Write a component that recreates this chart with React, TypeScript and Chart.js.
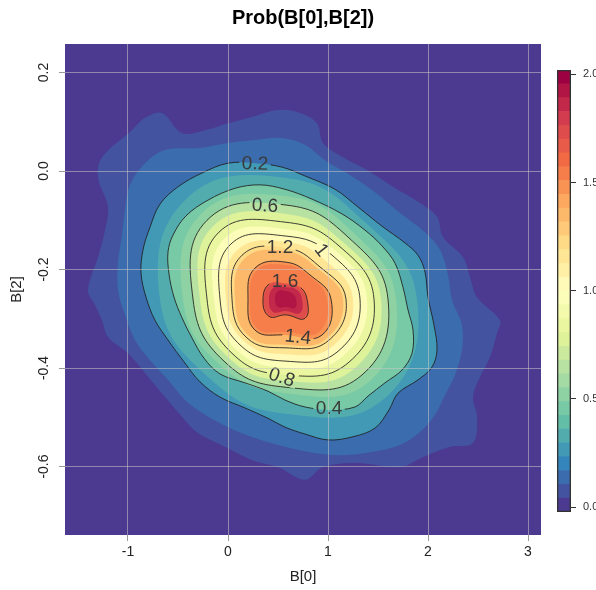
import React, { useEffect, useRef } from 'react';
import { Chart, registerables } from 'chart.js';

Chart.register(...registerables);

type Pt = [number, number];

const FONT = '"Liberation Sans", Arial, Helvetica, sans-serif';

const chartTitle = 'Prob(B[0],B[2])';
const xLabel = 'B[0]';
const yLabel = 'B[2]';
const xLimits: Pt = [-1.63, 3.13];
const yLimits: Pt = [-0.739, 0.258];
const xStep = 1;
const yStep = 0.2;

// colour key
const keyLimits: Pt = [-0.023, 2.02];
const keyBands = 32;
const keyStep = 0.5;
const paletteStops = ['#4B3A90', '#3288BD', '#66C2A5', '#ABDDA4', '#E6F598', '#FFFFBF', '#FEE08B', '#FDAE61', '#F46D43', '#D53E4F', '#9E0142'];

// density level outlines (B[0], B[2])
const band006: Pt[] = [[-0.83,0.108],[-0.66,0.118],[-0.46,0.077],[-0.23,0.083],[0.00,0.097],[0.24,0.110],[0.50,0.124],[0.72,0.118],[0.89,0.097],[0.95,0.057],[1.15,0.028],[1.39,0.002],[1.65,-0.032],[1.92,-0.065],[2.09,-0.093],[2.15,-0.134],[2.35,-0.175],[2.42,-0.215],[2.49,-0.256],[2.72,-0.303],[2.69,-0.329],[2.62,-0.378],[2.52,-0.418],[2.45,-0.459],[2.49,-0.499],[2.45,-0.552],[2.22,-0.560],[1.95,-0.581],[1.72,-0.601],[1.29,-0.593],[0.95,-0.601],[0.77,-0.627],[0.50,-0.601],[0.24,-0.587],[-0.03,-0.560],[-0.30,-0.532],[-0.46,-0.499],[-0.63,-0.459],[-0.83,-0.410],[-1.00,-0.370],[-1.20,-0.337],[-1.26,-0.303],[-1.33,-0.272],[-1.40,-0.242],[-1.30,-0.175],[-1.23,-0.120],[-1.20,-0.073],[-1.30,-0.012],[-1.26,0.028],[-0.96,0.083]];
const band013: Pt[] = [[-0.63,0.043],[-0.28,0.047],[0.00,0.057],[0.27,0.063],[0.54,0.067],[0.77,0.053],[0.97,0.022],[1.22,-0.008],[1.47,-0.043],[1.72,-0.085],[1.97,-0.124],[2.12,-0.160],[2.20,-0.211],[2.24,-0.262],[2.34,-0.313],[2.34,-0.363],[2.27,-0.414],[2.17,-0.455],[2.07,-0.495],[1.92,-0.530],[1.72,-0.556],[1.42,-0.571],[1.12,-0.577],[0.82,-0.571],[0.57,-0.560],[0.27,-0.542],[0.02,-0.522],[-0.23,-0.495],[-0.43,-0.465],[-0.60,-0.424],[-0.78,-0.384],[-0.93,-0.343],[-1.03,-0.292],[-1.10,-0.242],[-1.10,-0.185],[-1.06,-0.130],[-1.03,-0.079],[-0.98,-0.028],[-0.83,0.016]];
const contour02: Pt[] = [[-0.26,-0.004],[0.00,0.016],[0.27,0.016],[0.54,0.008],[0.77,-0.010],[1.07,-0.037],[1.30,-0.073],[1.54,-0.112],[1.77,-0.146],[1.90,-0.171],[1.97,-0.205],[2.00,-0.256],[2.06,-0.313],[2.09,-0.363],[2.04,-0.398],[1.90,-0.424],[1.70,-0.451],[1.61,-0.485],[1.47,-0.522],[1.24,-0.540],[1.00,-0.546],[0.77,-0.534],[0.57,-0.520],[0.40,-0.502],[0.17,-0.481],[-0.08,-0.459],[-0.28,-0.428],[-0.43,-0.390],[-0.60,-0.343],[-0.73,-0.303],[-0.82,-0.256],[-0.87,-0.207],[-0.85,-0.160],[-0.78,-0.114],[-0.68,-0.067],[-0.50,-0.032]];
const contour03: Pt[] = [[1.89,-0.260],[1.36,-0.102],[0.58,-0.014],[-0.42,-0.057],[-0.68,-0.260],[-0.20,-0.418],[0.58,-0.493],[1.57,-0.461]];
const contour04: Pt[] = [[-0.20,-0.059],[0.07,-0.035],[0.32,-0.028],[0.57,-0.037],[0.84,-0.057],[1.14,-0.087],[1.37,-0.120],[1.54,-0.152],[1.67,-0.187],[1.75,-0.236],[1.80,-0.282],[1.85,-0.323],[1.84,-0.370],[1.74,-0.404],[1.57,-0.430],[1.40,-0.457],[1.27,-0.479],[1.02,-0.485],[0.77,-0.479],[0.57,-0.465],[0.40,-0.447],[0.17,-0.430],[-0.08,-0.412],[-0.24,-0.380],[-0.36,-0.339],[-0.46,-0.298],[-0.54,-0.256],[-0.59,-0.209],[-0.60,-0.164],[-0.55,-0.130],[-0.42,-0.091]];
const contour05: Pt[] = [[1.68,-0.260],[1.25,-0.124],[0.58,-0.051],[-0.27,-0.087],[-0.45,-0.260],[-0.08,-0.394],[0.58,-0.451],[1.41,-0.428]];
const contour06: Pt[] = [[1.60,-0.260],[1.20,-0.134],[0.58,-0.069],[-0.21,-0.100],[-0.35,-0.260],[-0.04,-0.386],[0.58,-0.439],[1.34,-0.414]];
const contour07: Pt[] = [[1.53,-0.260],[1.15,-0.144],[0.58,-0.087],[-0.15,-0.112],[-0.28,-0.260],[0.00,-0.378],[0.58,-0.426],[1.27,-0.400]];
const contour08: Pt[] = [[1.46,-0.260],[1.11,-0.152],[0.58,-0.104],[-0.09,-0.124],[-0.21,-0.260],[0.04,-0.370],[0.58,-0.414],[1.21,-0.388]];
const contour09: Pt[] = [[1.39,-0.260],[1.07,-0.161],[0.58,-0.118],[-0.03,-0.136],[-0.14,-0.260],[0.08,-0.362],[0.58,-0.400],[1.15,-0.376]];
const contour10: Pt[] = [[1.32,-0.260],[1.03,-0.169],[0.58,-0.132],[0.03,-0.148],[-0.08,-0.260],[0.12,-0.353],[0.58,-0.386],[1.10,-0.366]];
const contour11: Pt[] = [[1.25,-0.260],[0.97,-0.181],[0.58,-0.144],[0.09,-0.161],[-0.02,-0.260],[0.16,-0.345],[0.58,-0.372],[1.05,-0.355]];
const contour12: Pt[] = [[1.18,-0.260],[0.91,-0.193],[0.58,-0.156],[0.14,-0.171],[0.04,-0.260],[0.19,-0.339],[0.58,-0.359],[1.00,-0.345]];
const contour13: Pt[] = [[1.15,-0.260],[0.89,-0.197],[0.58,-0.163],[0.17,-0.177],[0.07,-0.260],[0.21,-0.335],[0.58,-0.353],[0.98,-0.341]];
const contour14: Pt[] = [[1.03,-0.260],[0.82,-0.211],[0.58,-0.185],[0.27,-0.197],[0.20,-0.260],[0.27,-0.323],[0.58,-0.333],[0.94,-0.333]];
const contour15: Pt[] = [[0.99,-0.260],[0.81,-0.213],[0.58,-0.191],[0.29,-0.201],[0.22,-0.260],[0.29,-0.319],[0.58,-0.327],[0.91,-0.327]];
const contour16: Pt[] = [[0.79,-0.260],[0.71,-0.234],[0.58,-0.228],[0.42,-0.228],[0.35,-0.260],[0.41,-0.295],[0.58,-0.292],[0.77,-0.299]];
const contour17: Pt[] = [[0.78,-0.260],[0.70,-0.236],[0.58,-0.230],[0.43,-0.230],[0.36,-0.260],[0.42,-0.292],[0.58,-0.290],[0.76,-0.297]];
const contour18: Pt[] = [[0.74,-0.260],[0.68,-0.240],[0.58,-0.236],[0.46,-0.236],[0.41,-0.260],[0.45,-0.286],[0.58,-0.284],[0.72,-0.288]];
const contour19: Pt[] = [[0.68,-0.260],[0.64,-0.248],[0.58,-0.244],[0.50,-0.244],[0.47,-0.260],[0.50,-0.276],[0.58,-0.276],[0.67,-0.278]];

const fillShapes: Pt[][] = [band006, band013, contour02, contour03, contour04, contour05, contour06, contour07, contour08, contour09, contour10, contour11, contour12, contour13, contour14, contour15, contour16, contour17, contour18, contour19];
const fillValues = [0.095, 0.165, 0.25, 0.35, 0.45, 0.55, 0.65, 0.75, 0.85, 0.95, 1.05, 1.15, 1.25, 1.35, 1.45, 1.55, 1.65, 1.75, 1.85, 1.95];

const lineLevels = [0.2, 0.4, 0.6, 0.8, 1.0, 1.2, 1.4, 1.6];
const lineShapes: Pt[][] = [contour02, contour04, contour06, contour08, contour10, contour12, contour14, contour16];

const labelTexts = ['0.2', '0.4', '0.6', '0.8', '1', '1.2', '1.4', '1.6'];
const labelB0 = [0.27, 1.01, 0.37, 0.54, 0.94, 0.52, 0.70, 0.57];
const labelB2 = [0.016, -0.481, -0.069, -0.418, -0.160, -0.154, -0.336, -0.223];
const labelAngles = [2, 0, 3, 18, 52, 0, 6, 0];

function hexToRgb(h: string): number[] {
  const n = parseInt(h.slice(1), 16);
  return [(n >> 16) & 255, (n >> 8) & 255, n & 255];
}
function ramp(t: number): string {
  const n = paletteStops.length;
  const s = Math.max(0, Math.min(1, t)) * (n - 1);
  const i = Math.min(n - 2, Math.floor(s));
  const f = s - i;
  const a = hexToRgb(paletteStops[i]);
  const b = hexToRgb(paletteStops[i + 1]);
  const c = a.map((v, j) => Math.round(v + (b[j] - v) * f));
  return `rgb(${c[0]},${c[1]},${c[2]})`;
}
function bandOf(v: number): number {
  const r = (v - keyLimits[0]) / (keyLimits[1] - keyLimits[0]);
  return Math.max(0, Math.min(keyBands - 1, Math.floor(r * keyBands)));
}
function colorFor(v: number): string {
  return ramp(bandOf(v) / (keyBands - 1));
}

const toXY = (pts: Pt[]) => pts.map(([x, y]) => ({ x, y }));
const LABEL_FONT = `19px ${FONT}`;

const closedLoopPlugin = {
  id: 'closedLoop',
  afterDatasetsUpdate(chart: any) {
    chart.getSortedVisibleDatasetMetas().forEach((m: any) => {
      const el = m.dataset;
      if (el) {
        el._loop = true;
        el._fullLoop = true;
        el._segments = undefined;
        el._path = undefined;
        el._pointsUpdated = false;
      }
    });
  },
};

const backgroundPlugin = {
  id: 'plotBackground',
  beforeDatasetsDraw(chart: any) {
    const { ctx, chartArea: a } = chart;
    ctx.save();
    ctx.fillStyle = colorFor(0);
    ctx.fillRect(a.left, a.top, a.right - a.left, a.bottom - a.top);
    ctx.restore();
  },
};

function labelBoxes(chart: any) {
  const ctx = chart.ctx;
  const xs = chart.scales.x;
  const ys = chart.scales.y;
  ctx.save();
  ctx.font = LABEL_FONT;
  const boxes = labelTexts.map((t, i) => ({
    t,
    x: xs.getPixelForValue(labelB0[i]),
    y: ys.getPixelForValue(labelB2[i]),
    a: (labelAngles[i] * Math.PI) / 180,
    w: ctx.measureText(t).width + 5,
    h: 15,
  }));
  ctx.restore();
  return boxes;
}

const gapPlugin = {
  id: 'labelGaps',
  beforeDatasetDraw(chart: any, args: any) {
    const ds = chart.data.datasets[args.index];
    if (!ds || !ds.contourLine) return;
    const ctx = chart.ctx;
    const a = chart.chartArea;
    ctx.save();
    ctx.beginPath();
    ctx.rect(a.left, a.top, a.right - a.left, a.bottom - a.top);
    labelBoxes(chart).forEach((b) => {
      const c = Math.cos(b.a), s = Math.sin(b.a);
      const corners = [[-b.w / 2, -b.h / 2], [b.w / 2, -b.h / 2], [b.w / 2, b.h / 2], [-b.w / 2, b.h / 2]];
      corners.forEach(([px, py], k) => {
        const X = b.x + px * c - py * s;
        const Y = b.y + px * s + py * c;
        if (k === 0) ctx.moveTo(X, Y); else ctx.lineTo(X, Y);
      });
      ctx.closePath();
    });
    ctx.clip('evenodd');
  },
  afterDatasetDraw(chart: any, args: any) {
    const ds = chart.data.datasets[args.index];
    if (!ds || !ds.contourLine) return;
    chart.ctx.restore();
  },
};

const labelPlugin = {
  id: 'contourLabels',
  afterDatasetsDraw(chart: any) {
    const ctx = chart.ctx;
    const boxes = labelBoxes(chart);
    ctx.save();
    ctx.font = LABEL_FONT;
    ctx.fillStyle = '#3a3a3a';
    ctx.textAlign = 'center';
    ctx.textBaseline = 'middle';
    boxes.forEach((b) => {
      ctx.save();
      ctx.translate(b.x, b.y);
      ctx.rotate(b.a);
      ctx.fillText(b.t, 0, 1);
      ctx.restore();
    });
    ctx.restore();
  },
};

export default function App() {
  const mainRef = useRef<HTMLCanvasElement>(null);
  const keyRef = useRef<HTMLCanvasElement>(null);

  useEffect(() => {
    if (!mainRef.current || !keyRef.current) return;

    const datasets: any[] = [];
    fillShapes.forEach((pts, k) => {
      datasets.push({
        label: `band ${fillValues[k]}`,
        data: toXY(pts),
        fill: 'shape',
        backgroundColor: colorFor(fillValues[k]),
        borderColor: 'rgba(0,0,0,0)',
        borderWidth: 0,
        pointRadius: 0,
        tension: pts.length > 12 ? 0.35 : 0.45,
        order: 200 - k,
      });
    });
    lineShapes.forEach((pts, k) => {
      datasets.push({
        label: `contour ${lineLevels[k]}`,
        data: toXY(pts),
        fill: false,
        borderColor: 'rgba(30,30,30,0.85)',
        borderWidth: 1,
        pointRadius: 0,
        tension: pts.length > 12 ? 0.35 : 0.45,
        order: 0,
        contourLine: true,
      });
    });

    const gridOpts = { color: 'rgba(200,200,200,0.55)', lineWidth: 1, z: 1, drawTicks: true, tickLength: 6, tickColor: '#999' };

    const main = new Chart(mainRef.current, {
      type: 'line',
      data: { datasets },
      options: {
        animation: false,
        responsive: true,
        maintainAspectRatio: false,
        events: [],
        layout: { padding: { top: 0, left: 0, right: 55, bottom: 0 } },
        plugins: {
          legend: { display: false },
          tooltip: { enabled: false },
          title: {
            display: true,
            text: chartTitle,
            fullSize: false,
            color: '#000',
            font: { size: 20, weight: 'bold', family: FONT },
            padding: { top: 6, bottom: 14 },
          },
        },
        scales: {
          x: {
            type: 'linear',
            min: xLimits[0],
            max: xLimits[1],
            ticks: {
              stepSize: xStep,
              includeBounds: false,
              maxRotation: 0,
              padding: 3,
              color: '#222',
              font: { size: 14, family: FONT },
              callback: (v: any) => String(Math.round(Number(v))),
            },
            grid: gridOpts,
            border: { display: false },
            title: { display: true, text: xLabel, color: '#222', font: { size: 15, family: FONT }, padding: { top: 4, bottom: 4 } },
            afterFit: (s: any) => { s.height = 55; },
          },
          y: {
            type: 'linear',
            min: yLimits[0],
            max: yLimits[1],
            ticks: {
              stepSize: yStep,
              includeBounds: false,
              minRotation: 90,
              maxRotation: 90,
              crossAlign: 'center',
              padding: 3,
              color: '#222',
              font: { size: 14, family: FONT },
              callback: (v: any) => Number(v).toFixed(1),
            },
            grid: gridOpts,
            border: { display: false },
            title: { display: true, text: yLabel, color: '#222', font: { size: 15, family: FONT }, padding: { top: 8, bottom: 4 } },
            afterFit: (s: any) => { s.width = 65; },
          },
        },
      } as any,
      plugins: [closedLoopPlugin, backgroundPlugin, gapPlugin, labelPlugin],
    });

    const keyEdges = Array.from({ length: keyBands + 1 }, (_, i) => keyLimits[0] + (i * (keyLimits[1] - keyLimits[0])) / keyBands);
    const keySets: any[] = keyEdges.slice(0, -1).map((lo, i) => ({
      data: [[lo, keyEdges[i + 1]]],
      backgroundColor: ramp(i / (keyBands - 1)),
      borderWidth: 0,
      grouped: false,
      barPercentage: 1,
      categoryPercentage: 1,
      order: 1,
    }));
    keySets.push({
      data: [[keyLimits[0], keyLimits[1]]],
      backgroundColor: 'rgba(0,0,0,0)',
      borderColor: '#333',
      borderWidth: 1,
      borderSkipped: false,
      grouped: false,
      barPercentage: 1,
      categoryPercentage: 1,
      order: 0,
    });

    const key = new Chart(keyRef.current, {
      type: 'bar',
      data: { labels: [''], datasets: keySets },
      options: {
        animation: false,
        responsive: true,
        maintainAspectRatio: false,
        events: [],
        layout: { padding: { left: 12, top: 70, bottom: 78, right: 0 } },
        plugins: { legend: { display: false }, tooltip: { enabled: false } },
        scales: {
          x: { display: false },
          y: {
            position: 'right',
            min: keyLimits[0],
            max: keyLimits[1],
            ticks: {
              stepSize: keyStep,
              includeBounds: false,
              padding: 7,
              color: '#333',
              font: { size: 11, family: FONT },
              callback: (v: any) => Number(v).toFixed(1),
            },
            grid: { drawOnChartArea: false, drawTicks: true, tickLength: 5, tickColor: '#333' },
            border: { display: false },
            afterFit: (s: any) => { s.width = 25; },
          },
        },
      } as any,
    });

    return () => {
      main.destroy();
      key.destroy();
    };
  }, []);

  return (
    <div style={{ position: 'fixed', left: 0, top: 0, width: 596, height: 590, background: '#fff' }}>
      <div style={{ position: 'absolute', left: 0, top: 0, width: 596, height: 590 }}>
        <canvas ref={mainRef} />
      </div>
      <div style={{ position: 'absolute', left: 545, top: 0, width: 51, height: 590 }}>
        <canvas ref={keyRef} />
      </div>
    </div>
  );
}
